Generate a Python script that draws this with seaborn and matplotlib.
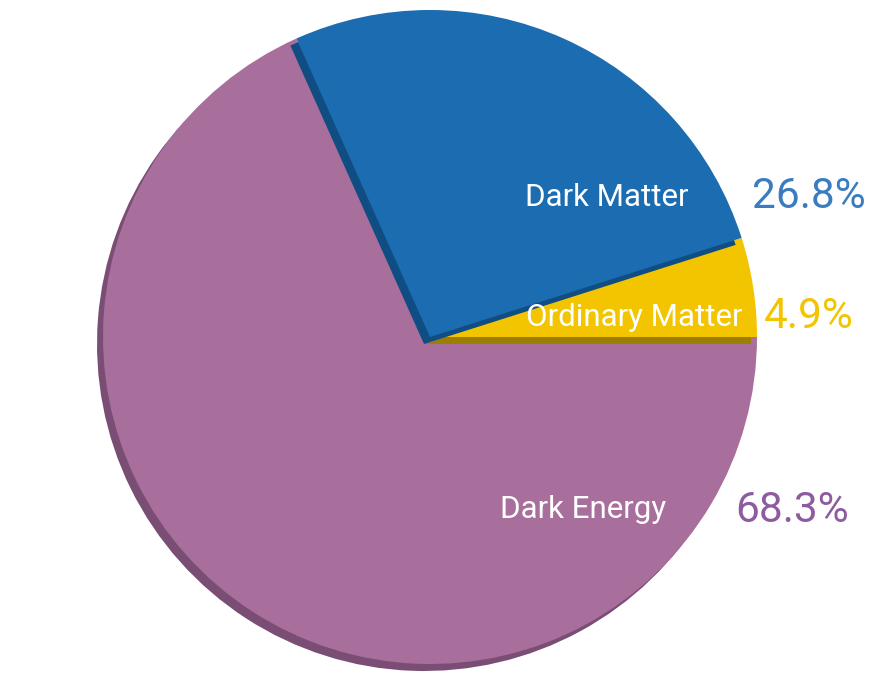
import matplotlib
matplotlib.use("Agg")
import matplotlib.pyplot as plt
import seaborn as sns

# --- data ---
components = ["Ordinary Matter", "Dark Matter", "Dark Energy"]
shares = [4.9, 26.8, 68.3]
pct_labels = ["4.9%", "26.8%", "68.3%"]

COLORS = ["#f2c500", "#1b6cb0", "#a86e9c"]
SHADOW = ["#9c7f00", "#0f4d82", "#7a4d74"]
PCT_COLORS = ["#f2c500", "#3b7bc0", "#8d5ca0"]

sns.set_theme(style="white")
plt.rcParams['font.family'] = ['Roboto', 'DejaVu Sans']

W, H = 894, 677
fig = plt.figure(figsize=(W / 100, H / 100), dpi=100)
ax = fig.add_axes([0, 0, 1, 1])

cx, cy, r = 430, H - 337, 327
dx, dy = -6, -7

shadow, _ = ax.pie(shares, colors=SHADOW, startangle=0, counterclock=True,
                   center=(cx + dx, cy + dy), radius=r, frame=True,
                   wedgeprops=dict(linewidth=0))
main, _ = ax.pie(shares, colors=COLORS, startangle=0, counterclock=True,
                 center=(cx, cy), radius=r, frame=True,
                 wedgeprops=dict(linewidth=0))
ax.set_xlim(0, W)
ax.set_ylim(0, H)
ax.set_aspect("equal")
ax.axis("off")

# layering: dark energy, then ordinary matter, then dark matter on top
order = {2: 1, 0: 3, 1: 5}
for i in range(3):
    shadow[i].set_zorder(order[i])
    main[i].set_zorder(order[i] + 1)

# labels
name_pos = [(634, 318), (607, 197), (583, 510)]
pct_pos = [(809, 316), (809, 197), (792, 510)]
for i in range(3):
    ax.text(name_pos[i][0], H - name_pos[i][1], components[i], color="white",
            fontsize=22.5, ha="center", va="center", zorder=10)
    ax.text(pct_pos[i][0], H - pct_pos[i][1], pct_labels[i], color=PCT_COLORS[i],
            fontsize=30.5, ha="center", va="center", zorder=10)

fig.savefig("out.png", dpi=100, facecolor="white")
